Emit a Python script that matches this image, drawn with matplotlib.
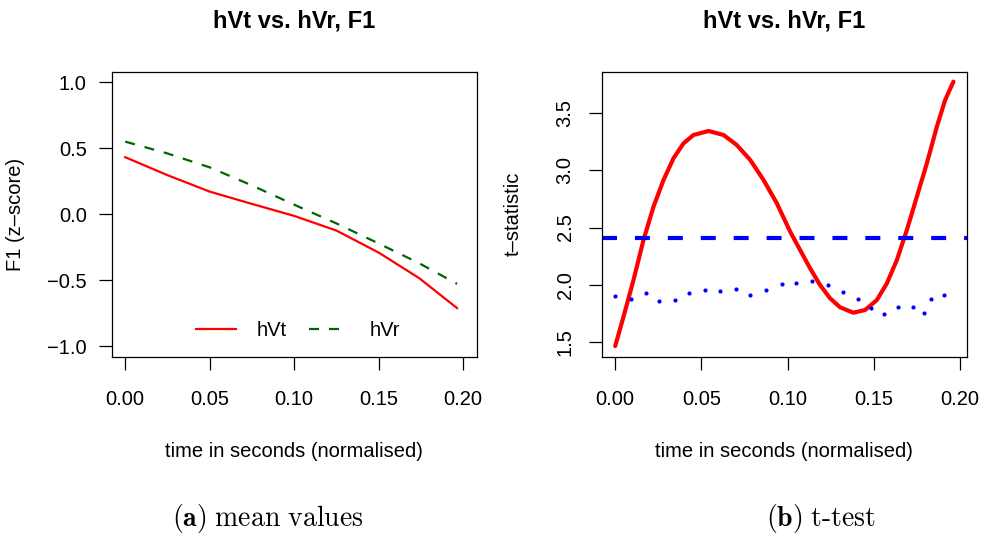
import numpy as np
import matplotlib
matplotlib.use('Agg')
import matplotlib.pyplot as plt

# Fonts (R-like Helvetica look)
plt.rcParams['font.family'] = ['Liberation Sans', 'DejaVu Sans']
plt.rcParams['mathtext.fontset'] = 'cm'

# Panel (a): mean values
t_mean = [0.0, 0.0246, 0.05, 0.075, 0.10, 0.125, 0.15, 0.174, 0.1964]
f1_hvt = [0.432, 0.298, 0.171, 0.078, -0.013, -0.124, -0.291, -0.485, -0.712]
f1_hvr = [0.550, 0.462, 0.355, 0.218, 0.072, -0.070, -0.222, -0.372, -0.528]

# Panel (b): t-test
t_stat_x = [0.0, 0.0048, 0.0106, 0.0164, 0.0222, 0.028, 0.0338, 0.0396, 0.0454,
            0.0541, 0.0628, 0.0705, 0.0783, 0.086, 0.0937, 0.1014, 0.1072,
            0.113, 0.1188, 0.1246, 0.1304, 0.1381, 0.1449, 0.1517, 0.1575,
            0.1633, 0.1691, 0.1749, 0.1807, 0.1865, 0.1913, 0.1961]
t_stat = [1.462, 1.719, 2.040, 2.391, 2.682, 2.916, 3.106, 3.237, 3.310,
          3.345, 3.310, 3.222, 3.091, 2.916, 2.712, 2.465, 2.303,
          2.143, 1.996, 1.880, 1.801, 1.754, 1.778, 1.865, 2.011,
          2.215, 2.478, 2.770, 3.062, 3.383, 3.616, 3.777]
t_crit = 2.405
dot_x = [0.0, 0.0093, 0.0178, 0.0251, 0.0344, 0.0429, 0.0518, 0.0609, 0.0700,
         0.0783, 0.0875, 0.0966, 0.1049, 0.1142, 0.1233, 0.1320, 0.1407,
         0.1484, 0.1561, 0.1637, 0.1724, 0.1790, 0.1832, 0.1906]
dot_y = [1.900, 1.874, 1.926, 1.854, 1.868, 1.926, 1.955, 1.941, 1.961,
         1.906, 1.953, 2.003, 2.011, 2.034, 1.997, 1.935, 1.871,
         1.798, 1.743, 1.806, 1.806, 1.754, 1.877, 1.909]

W, H = 985, 535
fig = plt.figure(figsize=(W / 100, H / 100), dpi=100)

def px_axes(x0, x1, y0, y1):
    return fig.add_axes([x0 / W, 1 - y1 / H, (x1 - x0) / W, (y1 - y0) / H])

tick_fs = 14.5
title_fs = 17

def style(ax):
    for s in ax.spines.values():
        s.set_linewidth(0.9)
    ax.tick_params(length=9.5, width=0.9, labelsize=tick_fs)
    ax.tick_params(axis='x', pad=14.5)

# (a)
ax1 = px_axes(111.7, 476.7, 71.7, 356.7)
ax1.plot(t_mean, f1_hvt, color='#ff0000', lw=1.6, label='hVt',
         solid_joinstyle='round')
ax1.plot(t_mean, f1_hvr, color='#006400', lw=1.6, dashes=(4.5, 4.5), label='hVr')
ax1.set_xlim(-0.008, 0.208)
ax1.set_ylim(-1.08, 1.08)
ax1.set_xticks([0.0, 0.05, 0.10, 0.15, 0.20])
ax1.set_xticklabels(['0.00', '0.05', '0.10', '0.15', '0.20'])
ax1.set_yticks([-1.0, -0.5, 0.0, 0.5, 1.0])
ax1.set_yticklabels(['\u22121.0', '\u22120.5', '0.0', '0.5', '1.0'])
style(ax1)
ax1.tick_params(axis='y', pad=8.5)
ax1.set_title('hVt vs. hVr, F1', fontsize=title_fs, fontweight='bold', pad=32)
ax1.set_xlabel('time in seconds (normalised)', fontsize=tick_fs, va='baseline')
ax1.xaxis.set_label_coords(0.5, -0.352)
ax1.set_ylabel('F1 (z\u2013score)', fontsize=tick_fs)
ax1.yaxis.set_label_coords(-0.2375, 0.5)
ax1.legend(loc='center', bbox_to_anchor=(0.51, 0.091), ncol=2, frameon=False,
           fontsize=tick_fs, handlelength=2.0, handletextpad=1.0,
           columnspacing=1.1)

# (b)
ax2 = px_axes(601.7, 966.7, 71.7, 356.7)
ax2.plot(t_stat_x, t_stat, color='#ff0000', lw=3.0, solid_capstyle='round',
         solid_joinstyle='round')
ax2.axhline(t_crit, color='#0000ff', lw=3.0, dashes=(3.6, 4.3))
ax2.plot(dot_x, dot_y, 'o', color='#0000ff', ms=3.0, mew=0)
ax2.set_xlim(-0.00784, 0.2038)
ax2.set_ylim(1.369, 3.864)
ax2.set_xticks([0.0, 0.05, 0.10, 0.15, 0.20])
ax2.set_xticklabels(['0.00', '0.05', '0.10', '0.15', '0.20'])
ax2.set_yticks([1.5, 2.0, 2.5, 3.0, 3.5])
ax2.set_yticklabels(['1.5', '2.0', '2.5', '3.0', '3.5'], rotation=90, va='center')
style(ax2)
ax2.tick_params(axis='y', pad=10)
ax2.set_title('hVt vs. hVr, F1', fontsize=title_fs, fontweight='bold', pad=32)
ax2.set_xlabel('time in seconds (normalised)', fontsize=tick_fs, va='baseline')
ax2.xaxis.set_label_coords(0.5, -0.352)
ax2.set_ylabel('t\u2013statistic', fontsize=tick_fs)
ax2.yaxis.set_label_coords(-0.2156, 0.5)

# captions
fig.text(268 / W, 1 - 526 / H, r'$\mathbf{(a)}$ $\mathrm{mean\ values}$',
         ha='center', va='baseline', fontsize=20)
fig.text(821 / W, 1 - 526 / H, r'$\mathbf{(b)}$ $\mathrm{t\text{-}test}$',
         ha='center', va='baseline', fontsize=20)

fig.savefig('out.png', dpi=100)
